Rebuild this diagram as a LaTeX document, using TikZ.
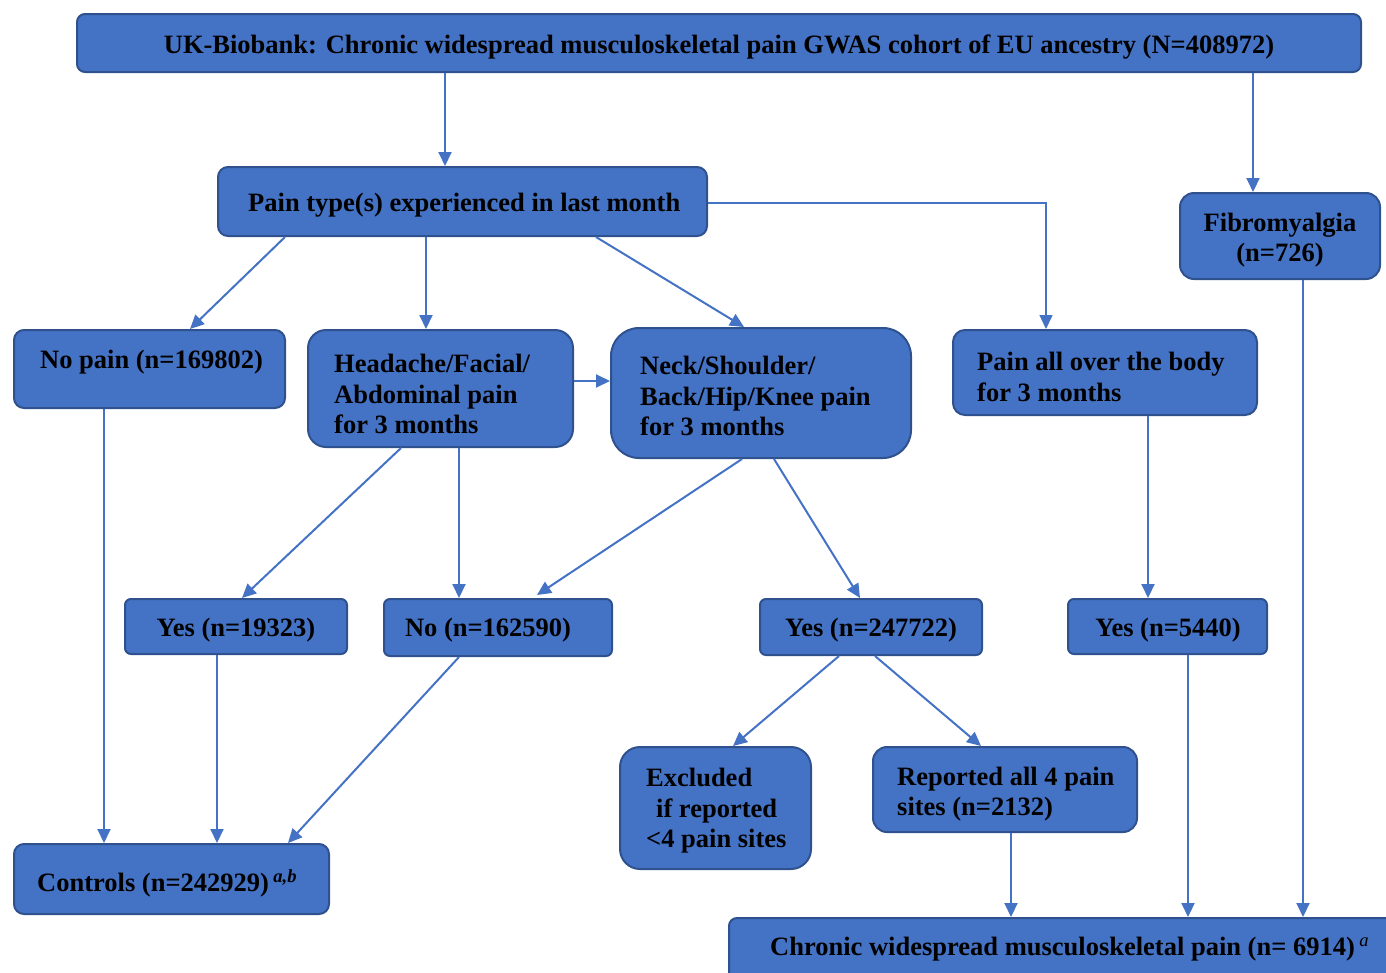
\documentclass[tikz,border=0pt]{standalone}
\usepackage{fontspec}
\setmainfont{Liberation Serif}
\usetikzlibrary{arrows.meta}
\definecolor{boxfill}{HTML}{4472C4}
\definecolor{boxline}{HTML}{2F528F}
\definecolor{arrcol}{HTML}{4472C4}
\begin{document}
\begin{tikzpicture}[x=1pt,y=-1pt,
  box/.style={draw=boxline,fill=boxfill,line width=2pt,inner sep=0pt},
  txt/.style={inner sep=0pt,font=\fontsize{26.5}{30.5}\selectfont\bfseries,text=black},
  arr/.style={draw=arrcol,line width=2pt,-{Triangle[length=14pt,width=13pt]}},
  thinarr/.style={draw=arrcol,line width=1.5pt,-{Triangle[length=14pt,width=13pt]}}]
\useasboundingbox (0,0) rectangle (1386,972);
% boxes
\node[box,rounded corners=8pt,minimum width=1284pt,minimum height=58pt] (top) at (719,43) {};
\node[box,rounded corners=10pt,minimum width=489pt,minimum height=69pt] (pain) at (462.5,201.5) {};
\node[box,rounded corners=14pt,minimum width=200pt,minimum height=86pt] (fibro) at (1280,236) {};
\node[box,rounded corners=10pt,minimum width=271pt,minimum height=78pt] (nopain) at (149.5,369) {};
\node[box,rounded corners=18pt,minimum width=265pt,minimum height=117pt] (head) at (440.5,388.5) {};
\node[box,rounded corners=28pt,minimum width=300pt,minimum height=130pt] (neck) at (761,393) {};
\node[box,rounded corners=12pt,minimum width=304pt,minimum height=85pt] (painall) at (1105,372.5) {};
\node[box,rounded corners=6pt,minimum width=222pt,minimum height=55pt] (yesA) at (236,626.5) {};
\node[box,rounded corners=6pt,minimum width=228pt,minimum height=57pt] (noB) at (498,627.5) {};
\node[box,rounded corners=6pt,minimum width=222pt,minimum height=56pt] (yesC) at (871,627) {};
\node[box,rounded corners=6pt,minimum width=199pt,minimum height=55pt] (yesD) at (1167.5,626.5) {};
\node[box,rounded corners=20pt,minimum width=191pt,minimum height=122pt] (excl) at (715.5,808) {};
\node[box,rounded corners=14pt,minimum width=264pt,minimum height=85pt] (rep) at (1005,789.5) {};
\node[box,rounded corners=10pt,minimum width=315pt,minimum height=70pt] (ctrl) at (171.5,879) {};
\node[box,rounded corners=8pt,minimum width=671pt,minimum height=72pt] (cwp) at (1064.5,954) {};
% texts
\node[txt] (toptxt) at (719,47) {UK-Biobank: Chronic widespread musculoskeletal pain GWAS cohort of EU ancestry (N=408972)};
\node[txt,anchor=west] (paintxt) at (248,205) {Pain type(s) experienced in last month};
\node[txt,align=center] (fibrotxt) at (1280,240) {Fibromyalgia\\(n=726)};
\node[txt,anchor=west] (nopaintxt) at (40,362) {No pain (n=169802)};
\node[txt,anchor=west,align=left] (headtxt) at (334,394) {Headache/Facial/\\Abdominal pain\\for 3 months};
\node[txt,anchor=west,align=left] (necktxt) at (640,396) {Neck/Shoulder/\\Back/Hip/Knee pain\\for 3 months};
\node[txt,anchor=west,align=left] (painalltxt) at (977,377) {Pain all over the body\\for 3 months};
\node[txt] (yesAtxt) at (236,630) {Yes (n=19323)};
\node[txt] (noBtxt) at (488,630) {No (n=162590)};
\node[txt] (yesCtxt) at (871,630) {Yes (n=247722)};
\node[txt] (yesDtxt) at (1168,630) {Yes (n=5440)};
\node[txt,anchor=west,align=left] (excltxt) at (646,811) {Excluded\\\hspace*{10pt}if reported\\<4 pain sites};
\node[txt,anchor=west,align=left] (reptxt) at (897,794) {Reported all 4 pain\\sites (n=2132)};
\node[txt,anchor=west] (ctrltxt) at (37,883) {Controls (n=242929)\,\textsuperscript{\itshape a,b}};
\node[txt,anchor=west] (cwptxt) at (770,949) {Chronic widespread musculoskeletal pain (n=~6914)\,\textsuperscript{\itshape\mdseries a}};
% connectors
\draw[arr] (top.south -| 445,0) -- (pain.north -| 445,0);
\draw[arr] (top.south -| 1253,0) -- (fibro.north -| 1253,0);
\draw[arr] (pain.south -| 285,0) -- (nopain.north -| 190,0);
\draw[arr] (pain.south -| 426,0) -- (head.north -| 426,0);
\draw[arr] (pain.south -| 596,0) -- (744,327);
\draw[thinarr] (pain.east |- 0,203) -| (painall.north -| 1046,0);
\draw[arr] (head.east |- 0,381) -- (neck.west |- 0,381);
\draw[arr] (head.south -| 401,0) -- (yesA.north -| 242,0);
\draw[arr] (head.south -| 459,0) -- (noB.north -| 459,0);
\draw[arr] (neck.south -| 742,0) -- (537,595);
\draw[arr] (neck.south -| 774,0) -- (yesC.north -| 860,0);
\draw[arr] (painall.south -| 1148,0) -- (yesD.north -| 1148,0);
\draw[arr] (fibro.south -| 1303,0) -- (cwp.north -| 1303,0);
\draw[arr] (nopain.south -| 104,0) -- (ctrl.north -| 104,0);
\draw[arr] (yesA.south -| 217,0) -- (ctrl.north -| 217,0);
\draw[arr] (noB.south -| 459,0) -- (ctrl.north -| 288,0);
\draw[arr] (yesC.south -| 839,0) -- (excl.north -| 733,0);
\draw[arr] (yesC.south -| 875,0) -- (rep.north -| 981,0);
\draw[arr] (rep.south -| 1011,0) -- (cwp.north -| 1011,0);
\draw[arr] (yesD.south -| 1188,0) -- (cwp.north -| 1188,0);
\end{tikzpicture}
\end{document}
